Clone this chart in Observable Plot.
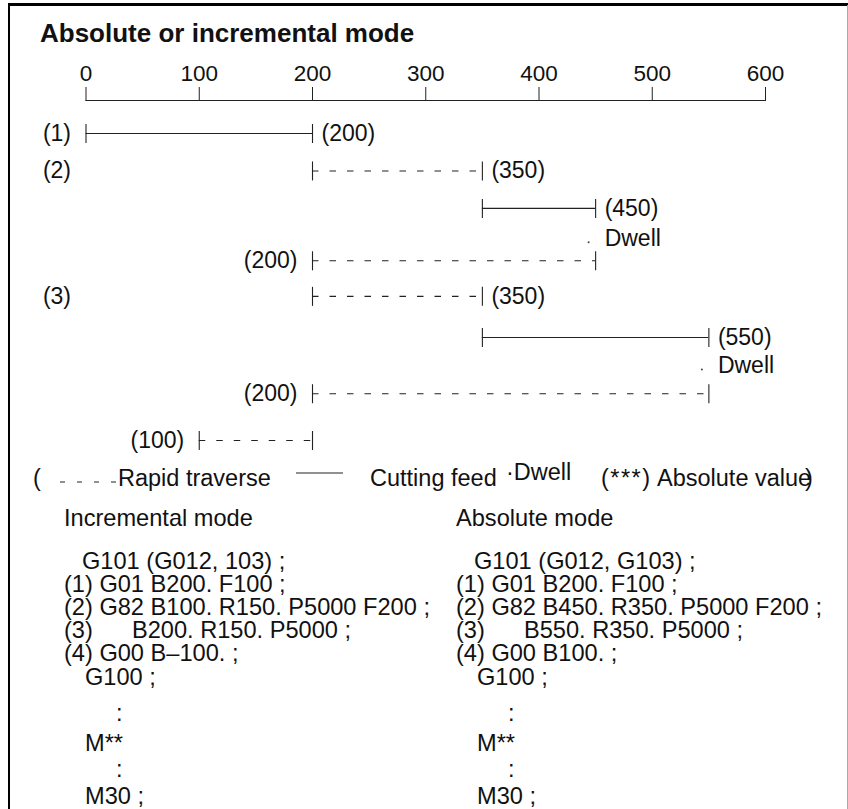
<!DOCTYPE html>
<html><head><meta charset="utf-8">
<script src="https://cdn.jsdelivr.net/npm/d3@7"></script>
<script src="https://cdn.jsdelivr.net/npm/@observablehq/plot@0.6"></script>
<style>
html,body{margin:0;padding:0;background:#fff;}
#page{position:relative;width:848px;height:809px;overflow:hidden;font-family:"Liberation Sans",Arial,sans-serif;color:#111;background:#fff;}
.t{position:absolute;white-space:pre;line-height:1;tab-size:68px;-moz-tab-size:68px;}
.b{position:absolute;}
</style></head><body><div id="page"></div>
<script>
// ---- data ----
const titleText = "Absolute or incremental mode";
const axisTicks = [0, 100, 200, 300, 400, 500, 600];
const axisTickLabels = ["0", "100", "200", "300", "400", "500", "600"];

// movements: start, end, lane (row), kind
const segStart = [0, 200, 350, 450, 200, 350, 550, 200];
const segEnd   = [200, 350, 450, 200, 350, 550, 200, 100];
const segLane  = [0, 1, 2, 3.4, 4.35, 5.45, 6.95, 8.2];
const segKind  = ["cut", "rapid", "cut", "rapid", "rapid", "cut", "rapid", "rapid"];

const blockLabels = ["(1)", "(2)", "(3)"];
const blockLanes  = [0, 1, 4.35];

const dwellAt    = [450, 550];
const dwellLanes = [2.8, 6.2];
const dwellText  = "Dwell";

const legendLabels = ["Rapid traverse", "Cutting feed", "Dwell", "(***)", "Absolute value"];

const colHeaders = ["Incremental mode", "Absolute mode"];
const incrementalLines = ["G101 (G012, 103) ;", "(1) G01 B200. F100 ;", "(2) G82 B100. R150. P5000 F200 ;", "(3)\tB200. R150. P5000 ;", "(4) G00 B\u2013100. ;", "G100 ;", ":", "M**", ":", "M30 ;"];
const absoluteLines    = ["G101 (G012, G103) ;", "(1) G01 B200. F100 ;", "(2) G82 B450. R350. P5000 F200 ;", "(3)\tB550. R350. P5000 ;", "(4) G00 B100. ;", "G100 ;", ":", "M**", ":", "M30 ;"];

// ---- layout helpers ----
const page = document.getElementById("page");
const ink = "#222";
function put(text, x, baseline, size, opts = {}) {
  const s = document.createElement("div");
  s.className = "t";
  s.textContent = text;
  s.style.left = x + "px";
  s.style.top = (baseline - 0.8465 * size) + "px";
  s.style.fontSize = size + "px";
  s.style.height = size + "px";
  if (opts.bold) s.style.fontWeight = "bold";
  if (opts.spacing) s.style.letterSpacing = opts.spacing + "px";
  s.style.color = opts.color || "#111";
  page.appendChild(s);
  return s;
}
function box(l, t, w, h, c) {
  const d = document.createElement("div");
  d.className = "b";
  Object.assign(d.style, {left: l + "px", top: t + "px", width: w + "px", height: h + "px", background: c});
  page.appendChild(d);
}

// ---- chart ----
const segs = segStart.map((s, i) => ({start: s, end: segEnd[i], lane: segLane[i], kind: segKind[i]}));
const ends = segs.flatMap(d => [{x: d.start, lane: d.lane}, {x: d.end, lane: d.lane}]);
const blocks = blockLabels.map((t, i) => ({t, lane: blockLanes[i]}));
const dwells = dwellAt.map((x, i) => ({x, lane: dwellLanes[i]}));
const bar = {draw(ctx, size) { const r = Math.sqrt(size / Math.PI); ctx.moveTo(0, -r); ctx.lineTo(0, r); }};
const tickLabel = new Map(axisTicks.map((t, i) => [t, axisTickLabels[i]]));
const lo = d => Math.min(d.start, d.end), hi = d => Math.max(d.start, d.end);

const chart = Plot.plot({
  width: 848, height: 460,
  marginLeft: 85.5, marginRight: 83, marginTop: 100, marginBottom: 0,
  style: {background: "transparent", fontFamily: "'Liberation Sans', Arial, sans-serif", color: ink, overflow: "visible"},
  x: {domain: [0, 600]},
  y: {domain: [0, 8.2], range: [133, 440], axis: null},
  marks: [
    Plot.frame({anchor: "top", stroke: ink, strokeWidth: 1}),
    Plot.axisX({anchor: "top", ticks: axisTicks, tickSize: 14, tickPadding: 6, fontSize: 22.5, stroke: ink, fill: "#111", tickFormat: d => tickLabel.get(d)}),
    Plot.ruleY(segs.filter(d => d.kind === "cut"), {x1: lo, x2: hi, y: "lane", stroke: ink, strokeWidth: 1.1}),
    Plot.ruleY(segs.filter(d => d.kind === "rapid"), {x1: lo, x2: hi, y: "lane", stroke: ink, strokeWidth: 1.1, strokeDasharray: "6.5,11"}),
    Plot.dot(ends, {x: "x", y: "lane", symbol: bar, r: 9.5, stroke: ink, strokeWidth: 1.1, fill: "none"}),
    Plot.text(segs.filter(d => d.end > d.start), {x: "end", y: "lane", text: d => `(${d.end})`, textAnchor: "start", dx: 9, fontSize: 23, fill: "#111"}),
    Plot.text(segs.filter(d => d.end < d.start), {x: "end", y: "lane", text: d => `(${d.end})`, textAnchor: "end", dx: -15, fontSize: 23, fill: "#111"}),
    Plot.text(blocks, {y: "lane", text: "t", frameAnchor: "left", textAnchor: "end", dx: -15, fontSize: 23, fill: "#111"}),
    Plot.dot(dwells, {x: "x", y: "lane", r: 1, fill: "#444", stroke: null, dx: -7, dy: 4}),
    Plot.text(dwells, {x: "x", y: "lane", text: () => dwellText, textAnchor: "start", dx: 9, fontSize: 23, fill: "#111"})
  ]
});
chart.style.position = "absolute";
chart.style.left = "0px";
chart.style.top = "0px";
page.appendChild(chart);

// ---- frame ----
box(8, 3, 840, 2.5, "#000");
box(8, 3, 1.6, 806, "#000");
box(846.5, 5, 1.2, 804, "#aaa");

// ---- title ----
put(titleText, 40, 42.5, 26, {bold: true});

// ---- legend ----
const lb = 487;
put("(", 33, lb, 23.5);
{
  const s = document.createElementNS("http://www.w3.org/2000/svg", "svg");
  s.setAttribute("width", 60); s.setAttribute("height", 10);
  s.style.position = "absolute"; s.style.left = "60px"; s.style.top = "477px";
  s.innerHTML = `<line x1="0" y1="5" x2="56" y2="5" stroke="${ink}" stroke-width="1.1" stroke-dasharray="5,12"/>`;
  page.appendChild(s);
  const s2 = document.createElementNS("http://www.w3.org/2000/svg", "svg");
  s2.setAttribute("width", 50); s2.setAttribute("height", 10);
  s2.style.position = "absolute"; s2.style.left = "296px"; s2.style.top = "468px";
  s2.innerHTML = `<line x1="0" y1="5" x2="47" y2="5" stroke="${ink}" stroke-width="1.1"/>`;
  page.appendChild(s2);
}
put(legendLabels[0], 118, lb, 23.5);
put(legendLabels[1], 370, lb, 23.5);
put("\u00b7" + legendLabels[2], 506, lb - 6, 23.5);
put(legendLabels[3], 601, lb, 23.5, {spacing: 1.5});
put(legendLabels[4], 657, lb, 23.5);
put(")", 805, lb, 23.5);

// ---- program listings ----
const lineBase = [570, 592.5, 615.5, 638.5, 661.5, 686, 722, 752, 778, 805];
function indentOf(line) {
  if (line.startsWith("(")) return 0;
  if (line === ":") return 52;
  if (line.startsWith("G101")) return 18;
  return 21;
}
put(colHeaders[0], 64, 527, 23.6);
put(colHeaders[1], 456, 527, 23.6);
incrementalLines.forEach((l, i) => put(l, 64 + indentOf(l), lineBase[i], 23.6));
absoluteLines.forEach((l, i) => put(l, 456 + indentOf(l), lineBase[i], 23.6));
</script>
</body></html>
